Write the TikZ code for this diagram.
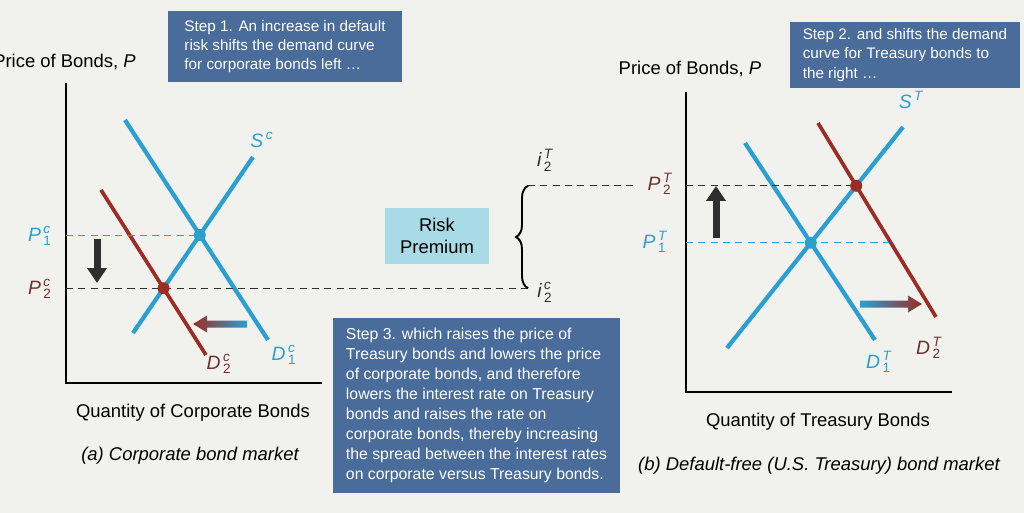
\documentclass[tikz,border=0pt]{standalone}
\usepackage{amsmath}
\usepackage{fontspec}
\setmainfont{Liberation Sans}
\usepackage{tikz}
\usetikzlibrary{arrows.meta,decorations.pathreplacing}
\definecolor{paper}{HTML}{F1F2EE}
\definecolor{stepblue}{HTML}{4A6C9B}
\definecolor{riskcyan}{HTML}{A8DBE5}
\definecolor{curveblue}{HTML}{2A9FD0}
\definecolor{curvered}{HTML}{9B2D24}
\definecolor{labelred}{HTML}{6E3028}
\definecolor{shiftdark}{HTML}{2E2E2E}
\newcommand{\PQ}[3]{$\textit{#1}^{\,\textit{#2}}_{\,\text{#3}}$}

\begin{document}
\begin{tikzpicture}[
  x=0.02cm, y=-0.02cm,
  axis/.style={draw, line width=0.6pt},
  bluecurve/.style={draw=curveblue, line width=2.4pt},
  redcurve/.style={draw=curvered, line width=2.1pt},
  guide/.style={draw, line width=0.5pt, dash pattern=on 4pt off 3pt},
  eqdot/.style={circle, inner sep=0pt, minimum size=0.24cm},
  stepbox/.style={fill=stepblue, text=white, align=left, inner sep=0pt,
                  font=\fontsize{8.7}{11}\selectfont},
  caption/.style={font=\fontsize{10.5}{12.6}\selectfont},
  curvelabel/.style={font=\fontsize{11}{13}\selectfont},
  pricearrow/.style={line width=0.14cm, draw=shiftdark,
                     -{Triangle[width=0.38cm,length=0.3cm]}},
]
  % Background
  \useasboundingbox (0,0) rectangle (1024,513);
  \fill[paper] (0,0) rectangle (1024,513);

  % (a) Corporate bond market
  \coordinate (Lorig) at (66,383);
  \draw[axis] (66,83) -- (Lorig) -- (322,383);
  \draw[bluecurve] (125,120) coordinate (d1ctop) -- (268,340) coordinate (d1cbot);
  \draw[bluecurve] (253,157) coordinate (sctop) -- (133,333) coordinate (scbot);
  \draw[redcurve] (101,190) coordinate (d2ctop) -- (206,355) coordinate (d2cbot);
  \path (intersection of d1ctop--d1cbot and sctop--scbot) coordinate (E1c);
  \path (intersection of d2ctop--d2cbot and sctop--scbot) coordinate (E2c);

  % (b) Treasury bond market
  \coordinate (Rorig) at (686,392);
  \draw[axis] (686,92) -- (Rorig) -- (952,392);
  \draw[bluecurve] (745,143) coordinate (d1ttop) -- (875,340) coordinate (d1tbot);
  \draw[bluecurve] (903,127) coordinate (sttop) -- (727,348) coordinate (stbot);
  \draw[redcurve] (818,123) coordinate (d2ttop) -- (936,317) coordinate (d2tbot);
  \path (intersection of d1ttop--d1tbot and sttop--stbot) coordinate (E1T);
  \path (intersection of d2ttop--d2tbot and sttop--stbot) coordinate (E2T);

  % Price levels
  \coordinate (brx) at (528,0);
  \draw[guide, curveblue] (E1c -| Lorig) -- (E1c);
  \draw[guide, shiftdark] (E2c -| Lorig) -- (E2c -| brx);
  \draw[guide, shiftdark] (E2T -| Rorig) -- (E2T);
  \draw[guide, shiftdark] (E2T -| brx) -- (E2T -| 637,0);
  \draw[guide, curveblue] (E1T -| Rorig) -- (E1T -| 889,0);

  % Equilibrium points
  \node[eqdot, fill=curveblue] (pt1c) at (E1c) {};
  \node[eqdot, fill=curvered] (pt2c) at (E2c) {};
  \node[eqdot, fill=curveblue] (pt1t) at (E1T) {};
  \node[eqdot, fill=curvered] (pt2t) at (E2T) {};

  % Shifts
  \draw[pricearrow] (97,239) -- (97,283);
  \draw[pricearrow] (716,238) -- (716,186);
  \shade[left color=curvered, right color=curveblue]
    (247,320.5) -- (207,320.5) -- (207,315.5) -- (193,324) -- (207,332.5)
    -- (207,327.5) -- (247,327.5) -- cycle;
  \shade[left color=curveblue, right color=curvered]
    (860,300.5) -- (908,300.5) -- (908,295.5) -- (922,304) -- (908,312.5)
    -- (908,307.5) -- (860,307.5) -- cycle;

  % Risk premium brace
  \draw[decorate, decoration={brace, amplitude=0.24cm}, line width=1.1pt]
    (E2c -| brx) -- (E2T -| brx);
  \node[curvelabel, text=shiftdark] (i2t) at (545,160) {\PQ{i}{T}{2}};
  \node[curvelabel, text=shiftdark] (i2c) at (545,292) {\PQ{i}{c}{2}};
  \node[fill=riskcyan, minimum width=2.1cm, minimum height=1.14cm,
        align=center, caption] (risk) at (437,236) {Risk\\Premium};

  % Curve and price labels
  \node[curvelabel, text=curveblue] (Sc) at (262,140) {$\textit{S}^{\,\textit{c}}$};
  \node[curvelabel, text=curveblue] (D1c) at (284,355) {\PQ{D}{c}{1}};
  \node[curvelabel, text=labelred] (D2c) at (219,364) {\PQ{D}{c}{2}};
  \node[curvelabel, text=curveblue, anchor=east] (P1c) at (58,236) {\PQ{P}{c}{1}};
  \node[curvelabel, text=labelred, anchor=east] (P2c) at (58,289) {\PQ{P}{c}{2}};
  \node[curvelabel, text=curveblue] (St) at (911,100) {$\textit{S}^{\,\textit{T}}$};
  \node[curvelabel, text=curveblue] (D1t) at (879,362) {\PQ{D}{T}{1}};
  \node[curvelabel, text=labelred] (D2t) at (929,348) {\PQ{D}{T}{2}};
  \node[curvelabel, text=labelred] (P2t) at (660,184) {\PQ{P}{T}{2}};
  \node[curvelabel, text=curveblue] (P1t) at (655,242) {\PQ{P}{T}{1}};

  % Axis titles and captions
  \node[caption, anchor=east] (ylabL) at (142,62) {Price of Bonds, \textit{P}};
  \node[caption] (ylabR) at (690,69) {Price of Bonds, \textit{P}};
  \node[caption] (xlabL) at (193,413) {Quantity of Corporate Bonds};
  \node[caption] (xlabR) at (818,422) {Quantity of Treasury Bonds};
  \node[caption, font=\fontsize{10.5}{12.6}\selectfont\itshape] (capA) at (190,456)
    {(a) Corporate bond market};
  \node[caption, font=\fontsize{10.5}{12.6}\selectfont\itshape] (capB) at (819,466)
    {(b) Default-free (U.S. Treasury) bond market};

  % Steps
  \node[stepbox, minimum width=4.68cm, minimum height=1.44cm]
    (step1) at (285,46.5)
    {Step 1. An increase in default\\risk shifts the demand curve\\for corporate bonds left \dots};
  \node[stepbox, minimum width=4.6cm, minimum height=1.32cm]
    (step2) at (905,55)
    {Step 2. and shifts the demand\\curve for Treasury bonds to\\the right \dots};
  \node[stepbox, minimum width=5.74cm, minimum height=3.5cm,
        font=\fontsize{9}{11.4}\selectfont]
    (step3) at (476.5,405.5)
    {Step 3. which raises the price of\\Treasury bonds and lowers the price\\of corporate bonds, and therefore\\lowers the interest rate on Treasury\\bonds and raises the rate on\\corporate bonds, thereby increasing\\the spread between the interest rates\\on corporate versus Treasury bonds.};
\end{tikzpicture}
\end{document}
